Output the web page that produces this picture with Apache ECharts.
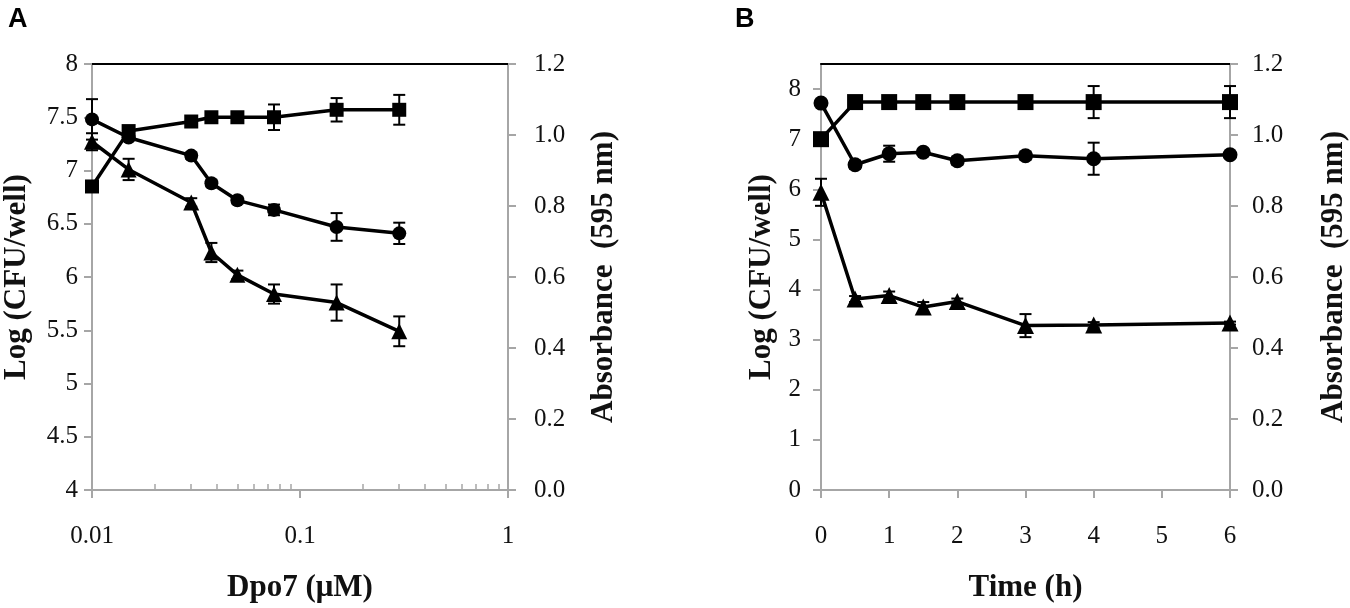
<!DOCTYPE html>
<html><head><meta charset="utf-8">
<script src="https://cdn.jsdelivr.net/npm/echarts@6/dist/echarts.min.js"></script>
<style>html,body{margin:0;padding:0;background:#fff}#c{width:1350px;height:608px}</style>
</head><body><div id="c"></div>
<script>
// Panel A data
const doseA = [0.01, 0.015, 0.03, 0.0375, 0.05, 0.075, 0.15, 0.3];
const aSquare = [6.85, 7.37, 7.46, 7.50, 7.50, 7.50, 7.57, 7.57];
const aSquareErr = [0.02, 0.03, 0.03, 0.03, 0.03, 0.12, 0.11, 0.14];
const aCircle = [7.48, 7.31, 7.14, 6.88, 6.72, 6.63, 6.47, 6.41];
const aCircleErr = [0.19, 0.03, 0.03, 0.03, 0.03, 0.05, 0.13, 0.10];
const aTriangle = [7.27, 7.01, 6.70, 6.23, 6.02, 5.84, 5.76, 5.49];
const aTriangleErr = [0.08, 0.10, 0.04, 0.09, 0.04, 0.09, 0.17, 0.14];
const minorTicksA = [0.02,0.03,0.04,0.05,0.06,0.07,0.08,0.09,0.2,0.3,0.4,0.5,0.6,0.7,0.8,0.9];
// Panel B data
const timeB = [0, 0.5, 1, 1.5, 2, 3, 4, 6];
const bSquare = [7.0, 7.74, 7.74, 7.74, 7.74, 7.74, 7.74, 7.74];
const bSquareErr = [0.03, 0.03, 0.03, 0.03, 0.03, 0.03, 0.32, 0.32];
const bCircle = [7.72, 6.49, 6.71, 6.74, 6.57, 6.67, 6.61, 6.69];
const bCircleErr = [0.05, 0.08, 0.16, 0.05, 0.08, 0.08, 0.32, 0.03];
const bTriangle = [5.94, 3.81, 3.88, 3.65, 3.76, 3.28, 3.29, 3.33];
const bTriangleErr = [0.27, 0.06, 0.08, 0.10, 0.06, 0.23, 0.06, 0.03];
const leftTicksB = [0,1,2,3,4,5,6,7,8];

const GRAY = '#a6a6a6';
const SERIF = '"Liberation Serif","Times New Roman",serif';
const labelStyle = {fontFamily: SERIF, fontSize: 25, color: '#111'};
const nameStyle = {fontFamily: SERIF, fontSize: 31, fontWeight: 'bold', color: '#111'};

function pairs(xs, ys){ return xs.map((x,i)=>[x, ys[i]]); }
function errData(xs, ys, es){ return xs.map((x,i)=>[x, ys[i], es[i]]); }

function errSeries(xi, yi, data){
  return {
    type: 'custom', xAxisIndex: xi, yAxisIndex: yi, data: data, z: 3,
    encode: {x: 0, y: 1},
    renderItem: function(params, api){
      const x = api.value(0), y = api.value(1), e = api.value(2);
      const top = api.coord([x, y + e]);
      const bot = api.coord([x, y - e]);
      const hw = 6;
      const st = {stroke: '#000', lineWidth: 2};
      return {type: 'group', children: [
        {type: 'line', shape: {x1: top[0], y1: top[1], x2: bot[0], y2: bot[1]}, style: st},
        {type: 'line', shape: {x1: top[0]-hw, y1: top[1], x2: top[0]+hw, y2: top[1]}, style: st},
        {type: 'line', shape: {x1: bot[0]-hw, y1: bot[1], x2: bot[0]+hw, y2: bot[1]}, style: st}
      ]};
    }
  };
}
function lineSeries(xi, yi, data, symbol, size){
  return {
    type: 'line', xAxisIndex: xi, yAxisIndex: yi, data: data, z: 4,
    symbol: symbol, symbolSize: size, showAllSymbol: true,
    lineStyle: {color: '#000', width: 3.5}, itemStyle: {color: '#000'},
    animation: false
  };
}

const axisLineGray = {show: true, onZero: false, lineStyle: {color: GRAY, width: 2}};
const axisLineBlack = {show: true, onZero: false, lineStyle: {color: '#000', width: 2}};
const tickGray = {show: true, inside: false, length: 8, lineStyle: {color: GRAY, width: 2}};

const option = {
  animation: false,
  grid: [
    {left: 92, top: 64, width: 416, height: 426},
    {left: 821, top: 64, width: 412, height: 426}
  ],
  xAxis: [
    {type: 'log', logBase: 10, gridIndex: 0, min: 0.01, max: 1, position: 'bottom',
     axisLine: axisLineGray, axisTick: tickGray,
     axisLabel: Object.assign({margin: 34, formatter: v => String(v)}, labelStyle),
     splitLine: {show: false},
     name: 'Dpo7 (μM)', nameLocation: 'middle', nameGap: 82, nameTextStyle: nameStyle},
    {type: 'log', logBase: 10, gridIndex: 0, min: 0.01, max: 1, position: 'bottom',
     axisLine: {show: false, onZero: false}, axisLabel: {show: false}, splitLine: {show: false},
     axisTick: {show: true, inside: true, length: 6, customValues: minorTicksA, lineStyle: {color: GRAY, width: 1.5}}},
    {type: 'value', gridIndex: 0, min: 0, max: 1, position: 'top',
     axisLine: axisLineBlack, axisTick: {show: false},
     axisLabel: {show: false}, splitLine: {show: false}},
    {type: 'value', gridIndex: 1, min: 0, max: 6, interval: 1, position: 'bottom',
     axisLine: axisLineGray, axisTick: tickGray,
     axisLabel: Object.assign({margin: 34}, labelStyle), splitLine: {show: false},
     name: 'Time (h)', nameLocation: 'middle', nameGap: 82, nameTextStyle: nameStyle},
    {type: 'value', gridIndex: 1, min: 0, max: 1, position: 'top',
     axisLine: axisLineBlack, axisTick: {show: false},
     axisLabel: {show: false}, splitLine: {show: false}}
  ],
  yAxis: [
    {type: 'value', gridIndex: 0, min: 4, max: 8, interval: 0.5, position: 'left',
     axisLine: axisLineGray, axisTick: tickGray,
     axisLabel: Object.assign({margin: 14}, labelStyle), splitLine: {show: false},
     name: 'Log (CFU/well)', nameLocation: 'middle', nameRotate: 90, nameGap: 60, nameTextStyle: nameStyle},
    {type: 'value', gridIndex: 0, min: 0, max: 1.2, interval: 0.2, position: 'right',
     axisLine: axisLineGray, axisTick: tickGray,
     axisLabel: Object.assign({margin: 26, formatter: v => v.toFixed(1)}, labelStyle), splitLine: {show: false},
     name: 'Absorbance  (595 nm)', nameLocation: 'middle', nameRotate: 90, nameGap: 80, nameTextStyle: nameStyle},
    {type: 'value', gridIndex: 1, min: 0, max: 8.5, position: 'left',
     axisLine: axisLineGray,
     axisTick: Object.assign({customValues: leftTicksB}, tickGray),
     axisLabel: Object.assign({margin: 20, customValues: leftTicksB}, labelStyle), splitLine: {show: false},
     name: 'Log (CFU/well)', nameLocation: 'middle', nameRotate: 90, nameGap: 44, nameTextStyle: nameStyle},
    {type: 'value', gridIndex: 1, min: 0, max: 1.2, interval: 0.2, position: 'right',
     axisLine: axisLineGray, axisTick: tickGray,
     axisLabel: Object.assign({margin: 22, formatter: v => v.toFixed(1)}, labelStyle), splitLine: {show: false},
     name: 'Absorbance  (595 nm)', nameLocation: 'middle', nameRotate: 90, nameGap: 88, nameTextStyle: nameStyle}
  ],
  graphic: [
    {type: 'text', left: 8, top: 6, style: {text: 'A', font: 'bold 27px "Liberation Sans", Arial, sans-serif', fill: '#000'}},
    {type: 'text', left: 735, top: 6, style: {text: 'B', font: 'bold 27px "Liberation Sans", Arial, sans-serif', fill: '#000'}}
  ],
  series: [
    errSeries(0, 0, errData(doseA, aSquare, aSquareErr)),
    errSeries(0, 0, errData(doseA, aCircle, aCircleErr)),
    errSeries(0, 0, errData(doseA, aTriangle, aTriangleErr)),
    lineSeries(0, 0, pairs(doseA, aSquare), 'rect', 14),
    lineSeries(0, 0, pairs(doseA, aCircle), 'circle', 14),
    lineSeries(0, 0, pairs(doseA, aTriangle), 'triangle', 16),
    errSeries(3, 2, errData(timeB, bSquare, bSquareErr)),
    errSeries(3, 2, errData(timeB, bCircle, bCircleErr)),
    errSeries(3, 2, errData(timeB, bTriangle, bTriangleErr)),
    lineSeries(3, 2, pairs(timeB, bSquare), 'rect', 16),
    lineSeries(3, 2, pairs(timeB, bCircle), 'circle', 15),
    lineSeries(3, 2, pairs(timeB, bTriangle), 'triangle', 17)
  ]
};
const chart = echarts.init(document.getElementById('c'), null, {renderer: 'canvas'});
chart.setOption(option);
</script>
</body></html>
